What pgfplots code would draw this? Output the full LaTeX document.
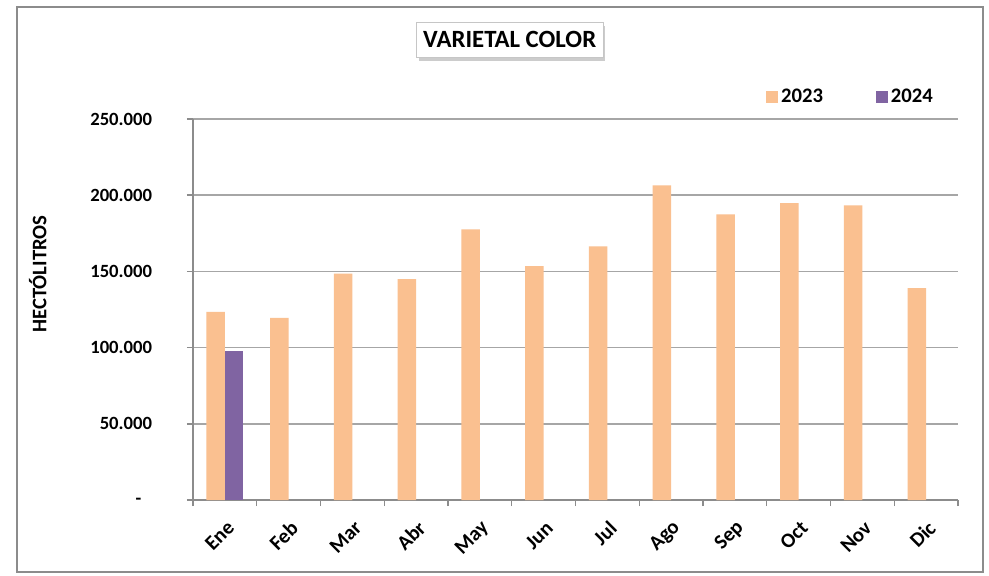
\documentclass[border=0pt]{standalone}
\usepackage{pgfplots}
\pgfplotsset{compat=1.18}
\usepackage{fontspec}
\setmainfont{Carlito}
\usetikzlibrary{shadows}

\definecolor{c2023}{HTML}{FAC090}
\definecolor{c2024}{HTML}{8064A2}
\definecolor{gridc}{HTML}{A6A6A6}
\definecolor{axisc}{HTML}{8C8C8C}

% legend squares like the spreadsheet
\pgfplotsset{
  /pgfplots/ybar legend/.style={
    /pgfplots/legend image code/.code={\fill[##1] (0pt,-4.5pt) rectangle (9pt,4.5pt);}
  }
}

\begin{document}
\begin{tikzpicture}
\useasboundingbox (-144.75pt,-56.25pt) rectangle (597pt,375pt);
\fill[white] (-144.75pt,-56.25pt) rectangle (597pt,375pt);
\draw[axisc, line width=1.1pt] (-132pt,-54pt) rectangle (592.5pt,369.75pt);
\begin{axis}[
  at={(0,0)}, anchor=south west,
  scale only axis, width=573.75pt, height=285.75pt,
  ybar=0pt, bar width=13.9pt,
  xmin=-0.5, xmax=11.5, ymin=0, ymax=250000,
  axis x line*=bottom, axis y line*=left,
  axis line style={axisc, line width=1.1pt},
  tick align=outside, xtick pos=bottom, ytick pos=left,
  xtick={0,...,11},
  xticklabels={Ene,Feb,Mar,Abr,May,Jun,Jul,Ago,Sep,Oct,Nov,Dic},
  major x tick style={draw=none},
  minor xtick={-0.5,0.5,...,11.5},
  minor x tick style={axisc, line width=1.1pt},
  minor tick length=4.5pt,
  ytick={0,50000,100000,150000,200000,250000},
  yticklabels={-\kern8pt\strut, 50.000, 100.000, 150.000, 200.000, 250.000},
  major tick length=4.5pt,
  y tick style={axisc, line width=1.1pt},
  ymajorgrids, grid style={gridc, line width=1.2pt},
  scaled y ticks=false,
  /pgf/number format/assume math mode=true,
  yticklabel style={font=\fontsize{14}{16}\selectfont\bfseries, anchor=east, inner sep=0pt, xshift=-26pt},
  xticklabel style={font=\fontsize{15.5}{18}\selectfont\bfseries, inner sep=0pt, xshift=4.5pt, yshift=-14pt, rotate=45, anchor=east},
  ylabel={HECTÓLITROS},
  ylabel style={at={(axis description cs:-0.203,0.593)}, anchor=center, font=\fontsize{15.5}{18}\selectfont\bfseries},
  title={VARIETAL COLOR},
  title style={at={(axis description cs:0.414,1.187)}, anchor=center,
    font=\fontsize{18.6}{22}\selectfont\bfseries, draw=gray!45, fill=white,
    drop shadow={shadow xshift=1.5pt, shadow yshift=-3pt, opacity=0.2, fill=black},
    inner xsep=5pt, minimum height=26.5pt},
  legend columns=2,
  legend style={at={(axis description cs:0.744,1.058)}, anchor=west, draw=none, fill=none,
    font=\fontsize{15.5}{18}\selectfont\bfseries,
    /tikz/every even column/.append style={column sep=38pt}},
  legend cell align=left,
]
\addplot[fill=c2023, draw=none] coordinates {
  (0,123400) (1,119500) (2,148500) (3,145000) (4,177600) (5,153500)
  (6,166400) (7,206400) (8,187400) (9,194800) (10,193300) (11,139100)
};
\addplot[fill=c2024, draw=none] coordinates {
  (0,97800)
};
\legend{2023,2024}
\end{axis}
\end{tikzpicture}
\end{document}
